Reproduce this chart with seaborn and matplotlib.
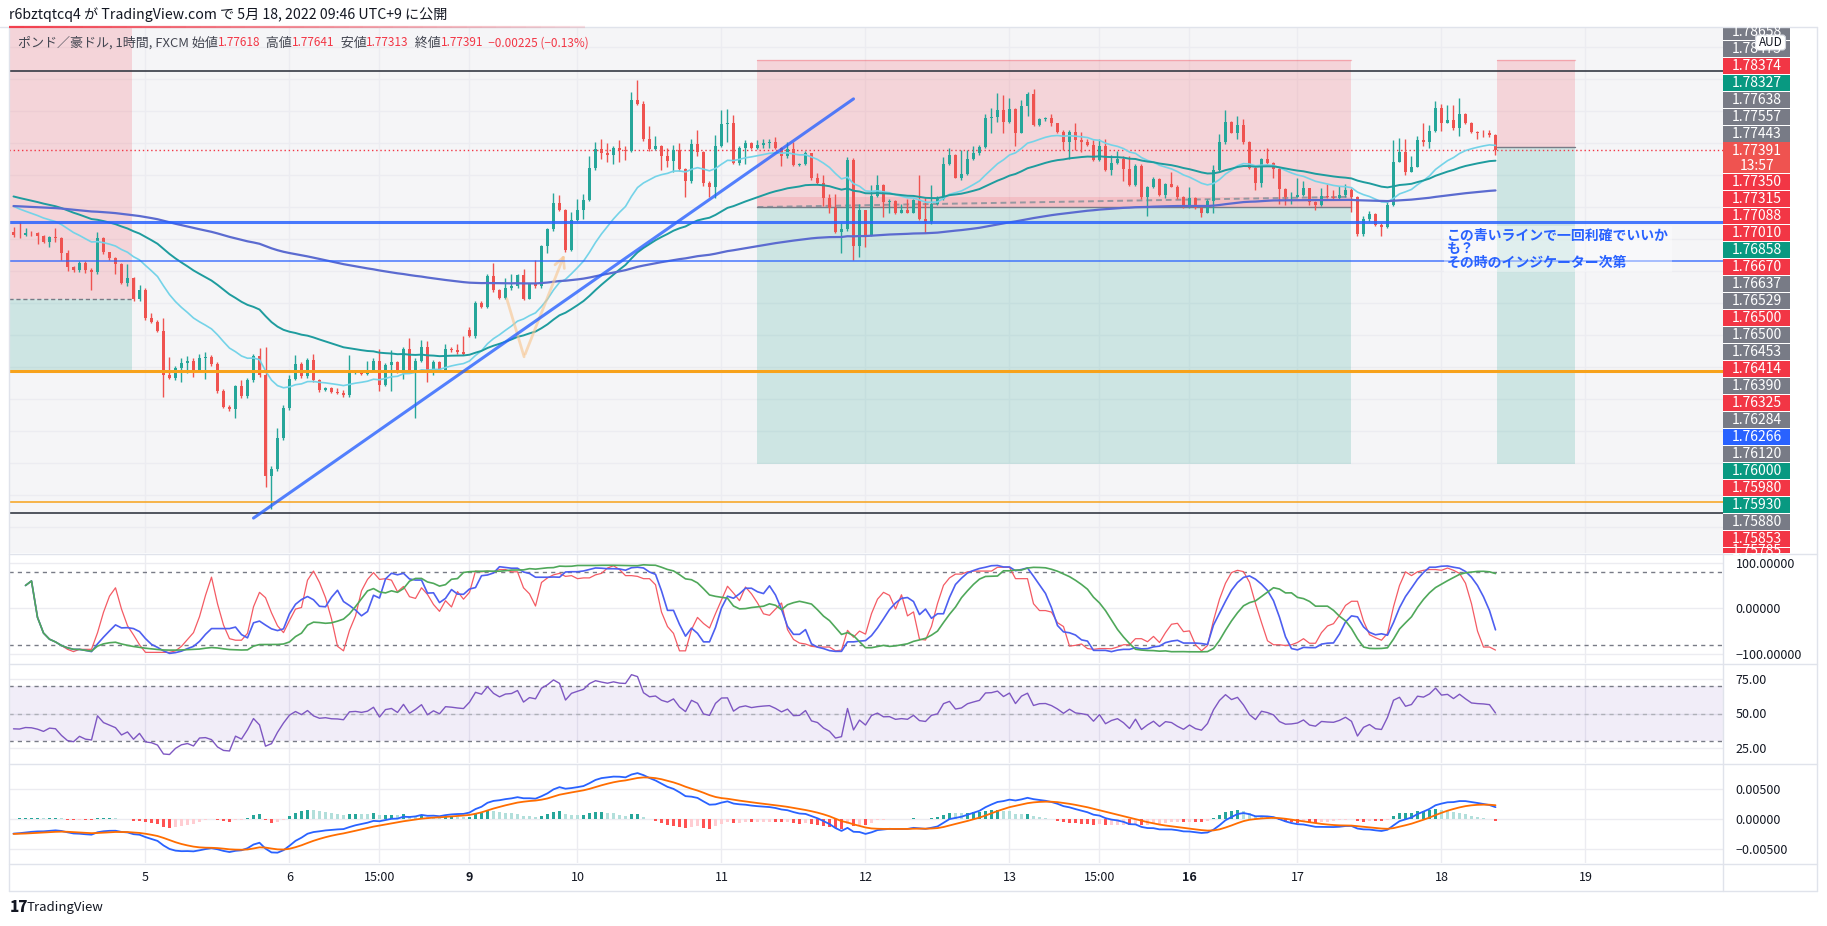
import numpy as np
import pandas as pd
import matplotlib
matplotlib.use("Agg")
import matplotlib.pyplot as plt
import matplotlib.transforms as mtrans
from matplotlib.patches import Rectangle, FancyBboxPatch
import seaborn as sns

# GBP/AUD 1h (FXCM), bars from 2022-05-04 02:00 to 05-18 09:00 JST
opens = [
    1.7611, 1.7607, 1.7606, 1.7610, 1.7609, 1.7604, 1.7596, 1.7603, 1.7601, 1.7578,
    1.7557, 1.7552, 1.7562, 1.7551, 1.7548, 1.7601, 1.7579, 1.7570, 1.7561, 1.7532,
    1.7539, 1.7506, 1.7520, 1.7476, 1.7471, 1.7457, 1.7388, 1.7383, 1.7398, 1.7407,
    1.7410, 1.7395, 1.7414, 1.7415, 1.7405, 1.7363, 1.7338, 1.7334, 1.7370, 1.7354,
    1.7380, 1.7417, 1.7388, 1.7230, 1.7240, 1.7289, 1.7336, 1.7382, 1.7405, 1.7386,
    1.7411, 1.7379, 1.7364, 1.7367, 1.7361, 1.7360, 1.7356, 1.7391, 1.7393, 1.7389,
    1.7394, 1.7410, 1.7372, 1.7403, 1.7408, 1.7393, 1.7428, 1.7393, 1.7410, 1.7432,
    1.7390, 1.7408, 1.7395, 1.7428, 1.7426, 1.7423, 1.7458, 1.7448, 1.7500, 1.7494,
    1.7542, 1.7520, 1.7508, 1.7524, 1.7527, 1.7544, 1.7507, 1.7530, 1.7526, 1.7589,
    1.7615, 1.7656, 1.7645, 1.7583, 1.7630, 1.7646, 1.7661, 1.7711, 1.7740, 1.7735,
    1.7731, 1.7743, 1.7739, 1.7738, 1.7817, 1.7811, 1.7756, 1.7740, 1.7745, 1.7729,
    1.7722, 1.7739, 1.7709, 1.7690, 1.7748, 1.7736, 1.7688, 1.7681, 1.7745, 1.7780,
    1.7781, 1.7719, 1.7743, 1.7750, 1.7742, 1.7747, 1.7750, 1.7752, 1.7742, 1.7729,
    1.7740, 1.7716, 1.7717, 1.7734, 1.7695, 1.7688, 1.7664, 1.7648, 1.7611, 1.7615,
    1.7723, 1.7589, 1.7645, 1.7606, 1.7667, 1.7684, 1.7658, 1.7659, 1.7641, 1.7645,
    1.7641, 1.7661, 1.7631, 1.7626, 1.7655, 1.7662, 1.7717, 1.7731, 1.7696, 1.7702,
    1.7725, 1.7735, 1.7744, 1.7789, 1.7791, 1.7801, 1.7783, 1.7803, 1.7766, 1.7808,
    1.7827, 1.7778, 1.7788, 1.7789, 1.7781, 1.7768, 1.7751, 1.7768, 1.7754, 1.7751,
    1.7747, 1.7723, 1.7745, 1.7708, 1.7719, 1.7725, 1.7709, 1.7684, 1.7714, 1.7665,
    1.7681, 1.7694, 1.7669, 1.7686, 1.7682, 1.7665, 1.7651, 1.7664, 1.7648, 1.7641,
    1.7660, 1.7708, 1.7751, 1.7783, 1.7766, 1.7778, 1.7751, 1.7711, 1.7688, 1.7725,
    1.7719, 1.7709, 1.7678, 1.7665, 1.7666, 1.7669, 1.7679, 1.7658, 1.7653, 1.7667,
    1.7665, 1.7664, 1.7669, 1.7677, 1.7665, 1.7608, 1.7631, 1.7639, 1.7622, 1.7619,
    1.7653, 1.7721, 1.7736, 1.7705, 1.7713, 1.7755, 1.7752, 1.7769, 1.7804, 1.7782,
    1.7786, 1.7773, 1.7795, 1.7781, 1.7768, 1.7766, 1.7765, 1.77618]
highs = [
    1.7619, 1.7626, 1.7618, 1.7613, 1.7611, 1.7606, 1.7605, 1.7618, 1.7603, 1.7583,
    1.7558, 1.7566, 1.7566, 1.7555, 1.7611, 1.7603, 1.7580, 1.7572, 1.7563, 1.7561,
    1.7541, 1.7528, 1.7524, 1.7484, 1.7473, 1.7476, 1.7416, 1.7402, 1.7414, 1.7417,
    1.7414, 1.7421, 1.7424, 1.7419, 1.7408, 1.7366, 1.7341, 1.7372, 1.7380, 1.7383,
    1.7420, 1.7429, 1.7432, 1.7245, 1.7305, 1.7341, 1.7388, 1.7419, 1.7408, 1.7414,
    1.7421, 1.7381, 1.7369, 1.7369, 1.7367, 1.7364, 1.7419, 1.7395, 1.7394, 1.7410,
    1.7414, 1.7428, 1.7406, 1.7427, 1.7409, 1.7431, 1.7445, 1.7414, 1.7442, 1.7440,
    1.7411, 1.7409, 1.7436, 1.7431, 1.7436, 1.7448, 1.7463, 1.7503, 1.7503, 1.7546,
    1.7562, 1.7522, 1.7539, 1.7546, 1.7545, 1.7553, 1.7531, 1.7568, 1.7591, 1.7617,
    1.7672, 1.7669, 1.7647, 1.7643, 1.7662, 1.7671, 1.7729, 1.7752, 1.7756, 1.7750,
    1.7745, 1.7755, 1.7745, 1.7829, 1.7848, 1.7815, 1.7776, 1.7761, 1.7747, 1.7743,
    1.7747, 1.7750, 1.7711, 1.7756, 1.7771, 1.7738, 1.7691, 1.7763, 1.7801, 1.7803,
    1.7794, 1.7745, 1.7755, 1.7752, 1.7754, 1.7756, 1.7756, 1.7759, 1.7744, 1.7751,
    1.7752, 1.7719, 1.7738, 1.7735, 1.7703, 1.7700, 1.7671, 1.7671, 1.7625, 1.7728,
    1.7726, 1.7655, 1.7646, 1.7684, 1.7700, 1.7686, 1.7662, 1.7661, 1.7655, 1.7662,
    1.7663, 1.7700, 1.7666, 1.7684, 1.7667, 1.7728, 1.7742, 1.7733, 1.7739, 1.7739,
    1.7745, 1.7747, 1.7796, 1.7804, 1.7828, 1.7825, 1.7820, 1.7805, 1.7818, 1.7829,
    1.7834, 1.7789, 1.7791, 1.7795, 1.7782, 1.7770, 1.7770, 1.7782, 1.7768, 1.7756,
    1.7755, 1.7757, 1.7757, 1.7731, 1.7738, 1.7729, 1.7729, 1.7717, 1.7717, 1.7683,
    1.7697, 1.7696, 1.7688, 1.7705, 1.7684, 1.7667, 1.7681, 1.7666, 1.7650, 1.7662,
    1.7716, 1.7764, 1.7801, 1.7785, 1.7792, 1.7787, 1.7753, 1.7713, 1.7727, 1.7743,
    1.7720, 1.7712, 1.7679, 1.7674, 1.7696, 1.7690, 1.7680, 1.7660, 1.7679, 1.7686,
    1.7677, 1.7683, 1.7686, 1.7679, 1.7667, 1.7636, 1.7644, 1.7640, 1.7625, 1.7659,
    1.7755, 1.7758, 1.7757, 1.7730, 1.7761, 1.7781, 1.7778, 1.7815, 1.7811, 1.7809,
    1.7809, 1.7821, 1.7797, 1.7783, 1.7769, 1.7771, 1.7770, 1.77641]
lows = [
    1.7603, 1.7602, 1.7605, 1.7605, 1.7593, 1.7594, 1.7588, 1.7596, 1.7567, 1.7550,
    1.7548, 1.7548, 1.7547, 1.7521, 1.7545, 1.7577, 1.7567, 1.7546, 1.7530, 1.7526,
    1.7503, 1.7503, 1.7473, 1.7469, 1.7455, 1.7353, 1.7381, 1.7380, 1.7377, 1.7390,
    1.7385, 1.7392, 1.7382, 1.7402, 1.7359, 1.7336, 1.7331, 1.7320, 1.7352, 1.7352,
    1.7377, 1.7384, 1.7212, 1.7178, 1.7238, 1.7286, 1.7333, 1.7380, 1.7383, 1.7383,
    1.7377, 1.7361, 1.7363, 1.7359, 1.7358, 1.7353, 1.7353, 1.7389, 1.7388, 1.7388,
    1.7392, 1.7363, 1.7370, 1.7363, 1.7391, 1.7382, 1.7391, 1.7321, 1.7408, 1.7377,
    1.7388, 1.7392, 1.7394, 1.7423, 1.7420, 1.7419, 1.7447, 1.7445, 1.7492, 1.7492,
    1.7517, 1.7506, 1.7506, 1.7520, 1.7524, 1.7505, 1.7506, 1.7524, 1.7524, 1.7578,
    1.7613, 1.7644, 1.7580, 1.7581, 1.7628, 1.7632, 1.7659, 1.7708, 1.7725, 1.7721,
    1.7718, 1.7721, 1.7724, 1.7736, 1.7809, 1.7753, 1.7738, 1.7739, 1.7708, 1.7713,
    1.7705, 1.7707, 1.7666, 1.7688, 1.7729, 1.7683, 1.7665, 1.7664, 1.7744, 1.7752,
    1.7717, 1.7716, 1.7718, 1.7740, 1.7740, 1.7742, 1.7743, 1.7741, 1.7714, 1.7727,
    1.7714, 1.7714, 1.7715, 1.7693, 1.7686, 1.7651, 1.7640, 1.7609, 1.7578, 1.7613,
    1.7567, 1.7572, 1.7588, 1.7605, 1.7666, 1.7634, 1.7640, 1.7639, 1.7640, 1.7640,
    1.7640, 1.7630, 1.7610, 1.7623, 1.7653, 1.7661, 1.7716, 1.7695, 1.7693, 1.7700,
    1.7723, 1.7731, 1.7742, 1.7765, 1.7783, 1.7765, 1.7782, 1.7745, 1.7765, 1.7792,
    1.7777, 1.7777, 1.7784, 1.7776, 1.7766, 1.7739, 1.7725, 1.7739, 1.7736, 1.7745,
    1.7722, 1.7722, 1.7706, 1.7700, 1.7717, 1.7690, 1.7683, 1.7683, 1.7663, 1.7636,
    1.7680, 1.7667, 1.7664, 1.7681, 1.7663, 1.7649, 1.7649, 1.7647, 1.7635, 1.7640,
    1.7640, 1.7706, 1.7749, 1.7765, 1.7757, 1.7749, 1.7709, 1.7676, 1.7682, 1.7718,
    1.7695, 1.7655, 1.7653, 1.7655, 1.7665, 1.7667, 1.7653, 1.7646, 1.7652, 1.7664,
    1.7663, 1.7663, 1.7666, 1.7643, 1.7605, 1.7604, 1.7628, 1.7620, 1.7604, 1.7617,
    1.7652, 1.7720, 1.7700, 1.7704, 1.7712, 1.7745, 1.7742, 1.7768, 1.7769, 1.7781,
    1.7771, 1.7761, 1.7779, 1.7766, 1.7757, 1.7759, 1.7759, 1.77313]
closes = [
    1.7607, 1.7606, 1.7610, 1.7609, 1.7604, 1.7596, 1.7603, 1.7601, 1.7578, 1.7557,
    1.7552, 1.7562, 1.7551, 1.7548, 1.7601, 1.7579, 1.7570, 1.7561, 1.7532, 1.7539,
    1.7506, 1.7520, 1.7476, 1.7471, 1.7457, 1.7388, 1.7383, 1.7398, 1.7407, 1.7410,
    1.7395, 1.7414, 1.7415, 1.7405, 1.7363, 1.7338, 1.7334, 1.7370, 1.7354, 1.7380,
    1.7417, 1.7388, 1.7230, 1.7240, 1.7289, 1.7336, 1.7382, 1.7405, 1.7386, 1.7411,
    1.7379, 1.7364, 1.7367, 1.7361, 1.7360, 1.7356, 1.7391, 1.7393, 1.7389, 1.7394,
    1.7410, 1.7372, 1.7403, 1.7408, 1.7393, 1.7428, 1.7393, 1.7410, 1.7432, 1.7390,
    1.7408, 1.7395, 1.7428, 1.7426, 1.7423, 1.7421, 1.7448, 1.7500, 1.7494, 1.7542,
    1.7520, 1.7508, 1.7524, 1.7527, 1.7544, 1.7507, 1.7530, 1.7526, 1.7589, 1.7615,
    1.7656, 1.7645, 1.7583, 1.7630, 1.7646, 1.7661, 1.7711, 1.7740, 1.7735, 1.7731,
    1.7743, 1.7739, 1.7738, 1.7817, 1.7811, 1.7756, 1.7740, 1.7745, 1.7729, 1.7722,
    1.7739, 1.7709, 1.7690, 1.7748, 1.7736, 1.7688, 1.7681, 1.7745, 1.7780, 1.7781,
    1.7719, 1.7743, 1.7750, 1.7742, 1.7747, 1.7750, 1.7752, 1.7742, 1.7729, 1.7740,
    1.7716, 1.7717, 1.7734, 1.7695, 1.7688, 1.7664, 1.7648, 1.7611, 1.7615, 1.7723,
    1.7589, 1.7645, 1.7606, 1.7667, 1.7684, 1.7658, 1.7659, 1.7641, 1.7645, 1.7641,
    1.7661, 1.7631, 1.7626, 1.7655, 1.7662, 1.7717, 1.7731, 1.7696, 1.7702, 1.7725,
    1.7735, 1.7744, 1.7789, 1.7791, 1.7801, 1.7783, 1.7803, 1.7766, 1.7808, 1.7827,
    1.7778, 1.7788, 1.7789, 1.7781, 1.7768, 1.7751, 1.7768, 1.7754, 1.7751, 1.7747,
    1.7723, 1.7745, 1.7708, 1.7719, 1.7725, 1.7709, 1.7684, 1.7714, 1.7665, 1.7681,
    1.7694, 1.7669, 1.7686, 1.7682, 1.7665, 1.7651, 1.7664, 1.7648, 1.7641, 1.7660,
    1.7708, 1.7751, 1.7783, 1.7766, 1.7778, 1.7751, 1.7711, 1.7688, 1.7725, 1.7719,
    1.7709, 1.7678, 1.7665, 1.7666, 1.7669, 1.7679, 1.7658, 1.7653, 1.7667, 1.7665,
    1.7664, 1.7669, 1.7677, 1.7665, 1.7608, 1.7631, 1.7639, 1.7622, 1.7619, 1.7653,
    1.7721, 1.7736, 1.7705, 1.7713, 1.7755, 1.7752, 1.7769, 1.7804, 1.7782, 1.7786,
    1.7773, 1.7795, 1.7781, 1.7768, 1.7766, 1.7765, 1.7763, 1.77391]

# time axis (bar numbers of the day / time labels)
tick_bars = [22, 46, 61, 76, 94, 118, 142, 166, 181, 196, 214, 238, 262]
tick_labels = ['5', '6', '15:00', '9', '10', '11', '12', '13', '15:00', '16', '17', '18', '19']
bold_labels = ['9', '16']

# drawings on the price pane
black_lines = [1.78626, 1.71719]
blue_lines = [1.76266, 1.75657]
orange_lines = [1.73938, 1.71891]
trend_x = [40.0, 140.0]
trend_y = [1.7164, 1.7819]
zigzag_x = [82.2, 85.1, 92.0]
zigzag_y = [1.7507, 1.7416, 1.7580]
pos_start = [-2.0, 124.0, 247.25]
pos_end = [19.7, 222.9, 260.25]
pos_stop = [1.7960, 1.7880, 1.7880]
pos_entry = [1.7506, 1.7650, 1.7744]
pos_target = [1.7392, 1.7248, 1.7248]
pos_close = [1.7506, 1.7666, 1.7744]
note_x, note_y = 238.9, 1.7616
note_text = "この青いラインで一回利確でいいか\nも？\nその時のインジケーター次第"

# labels stacked on the price scale
scale_vals = ['1.78658', '1.78475', '1.78374', '1.78327', '1.77638', '1.77557', '1.77443',
              '1.77391', '1.77350', '1.77315', '1.77088', '1.77010', '1.76858', '1.76670',
              '1.76637', '1.76529', '1.76500', '1.76500', '1.76453', '1.76414', '1.76390',
              '1.76325', '1.76284', '1.76266', '1.76120', '1.76000', '1.75980', '1.75930',
              '1.75880', '1.75853', '1.75785']
scale_kind = ['g', 'g', 'r', 't', 'g', 'g', 'g', 'c', 'r', 'r', 'r', 'r', 't', 'r', 'g', 'g',
              'r', 'g', 'g', 'r', 'g', 'r', 'g', 'b', 'g', 't', 'r', 't', 'g', 'r', 'r']
countdown = '13:57'

header1 = "r6bztqtcq4 が TradingView.com で 5月 18, 2022 09:46 UTC+9 に公開"
symbol = "ポンド／豪ドル, 1時間, FXCM"
change_txt = "−0.00225 (−0.13%)"

# indicator settings
ma_spans = [20, 50, 200]
ma_seed = [1.7656, 1.7669, 1.7652]
rci_periods = [9, 13, 26]
rsi_period, rsi_seed_gain, rsi_seed_loss = 14, 0.0007, 0.0011
macd_fast_seed, macd_slow_seed, macd_sig_seed = 0.0015, 0.0040, -0.0025

UP, DOWN = '#26a69a', '#ef5350'
RED, GREEN, BLUE, GRAY = '#f23645', '#089981', '#2962ff', '#787b86'
TXT, GRID, SEP = '#131722', '#ececf1', '#e0e3eb'

o = np.array(opens); h = np.array(highs); l = np.array(lows); c = np.array(closes)
bars = np.arange(len(c))


def ema(vals, span, seed):
    a = 2.0 / (span + 1)
    out = np.empty(len(vals))
    prev = seed
    for i, v in enumerate(vals):
        prev = prev + a * (v - prev)
        out[i] = prev
    return out


def rci(vals, n):
    out = np.full(len(vals), np.nan)
    for t in range(len(vals)):
        m = min(n, t + 1)
        if m < 3:
            continue
        w = pd.Series(vals[t - m + 1:t + 1])
        d = np.arange(m, 0, -1) - w.rank(ascending=False).values
        out[t] = (1 - 6 * np.sum(d ** 2) / (m * (m * m - 1))) * 100
    return out


def rsi(vals, n, g, lo):
    out = np.empty(len(vals))
    out[0] = 100 - 100 / (1 + g / lo)
    for i in range(1, len(vals)):
        ch = vals[i] - vals[i - 1]
        g = (g * (n - 1) + max(ch, 0)) / n
        lo = (lo * (n - 1) + max(-ch, 0)) / n
        out[i] = 100 - 100 / (1 + g / lo)
    return out


mas = [ema(c, s, seed) for s, seed in zip(ma_spans, ma_seed)]
rcis = [rci(c, n) for n in rci_periods]
rsi_v = rsi(c, rsi_period, rsi_seed_gain, rsi_seed_loss)
macd = ema(c, 12, c[0] + macd_fast_seed) - ema(c, 26, c[0] + macd_slow_seed)
signal = ema(macd, 9, macd_sig_seed)
hist = macd - signal

sns.set_theme(style="white")
plt.rcParams['font.family'] = ['Noto Sans CJK JP', 'DejaVu Sans']

W, H = 1827, 926
fig = plt.figure(figsize=(W / 100, H / 100), dpi=100, facecolor='white')


def px_axes(x0, y0, x1, y1):
    return fig.add_axes([x0 / W, 1 - y1 / H, (x1 - x0) / W, (y1 - y0) / H])


XL = ((9 - 13.5) / 6, (1723 - 13.5) / 6)
ax = px_axes(9, 27, 1723, 553)
ax_rci = px_axes(9, 554, 1723, 663)
ax_rsi = px_axes(9, 664, 1723, 763)
ax_macd = px_axes(9, 764, 1723, 863)
ax_t = px_axes(9, 864, 1723, 891)

for a in [ax, ax_rci, ax_rsi, ax_macd, ax_t]:
    a.set_xlim(*XL)
    for s in a.spines.values():
        s.set_visible(False)
    a.set_xticks(tick_bars)
    a.tick_params(axis='x', labelbottom=False, length=0)
    a.set_axisbelow(True)
    a.grid(True, color=GRID, linewidth=1)
    a.set_facecolor('white')

# ---- price pane ----
ax.set_facecolor('#f5f5f7')
ax.set_ylim(1.79735 - 553 / 6400, 1.79735 - 27 / 6400)
ax.set_yticks(np.arange(1.715, 1.7901, 0.005))
ax.tick_params(axis='y', labelleft=False, length=0)

for x0, x1, st, en, tg, cl in zip(pos_start, pos_end, pos_stop, pos_entry, pos_target, pos_close):
    ax.add_patch(Rectangle((x0, en), x1 - x0, st - en, facecolor=RED, alpha=0.17, lw=0, zorder=1))
    ax.add_patch(Rectangle((x0, tg), x1 - x0, en - tg, facecolor=GREEN, alpha=0.17, lw=0, zorder=1))
    ax.plot([x0, x1], [st, st], color=RED, alpha=0.3, lw=1, zorder=1)
    if cl > en:
        ax.add_patch(Rectangle((x0, en), x1 - x0, cl - en, facecolor=RED, alpha=0.13, lw=0, zorder=1))
        ax.plot([x0, x1], [en, cl], color='#9598a1', lw=1.4, ls=(0, (3, 2)), zorder=1.5)
    ax.plot([x0, x1], [en, en], color=GRAY, lw=1, zorder=1.5,
            ls=(0, (3, 2)) if x0 < 0 else '-')

for yv in black_lines:
    ax.axhline(yv, color='#363a45', lw=1.2, zorder=2)
for yv, lw in zip(blue_lines, [2.2, 1.1]):
    ax.axhline(yv, color=BLUE, lw=lw, alpha=0.85, zorder=6)
for yv, lw in zip(orange_lines, [2.2, 1.1]):
    ax.axhline(yv, color='#f7a21b', lw=lw, zorder=6)
ax.axhline(c[-1], color=RED, lw=1, ls=(0, (1, 2)), zorder=2)

cols = np.where(c >= o, UP, DOWN)
ax.vlines(bars, l, h, colors=cols, linewidth=1.0, zorder=3)
ax.bar(bars, np.maximum(np.abs(c - o), 0.00004), bottom=np.minimum(o, c), width=0.66,
       color=cols, linewidth=0, zorder=3)

for vals, col, lw in zip(mas, ['#74d3e8', '#1e9c9e', '#5b6bd0'], [1.2, 1.4, 1.6]):
    sns.lineplot(x=bars, y=vals, ax=ax, color=col, linewidth=lw, zorder=4)

sns.lineplot(x=trend_x, y=trend_y, ax=ax, color=BLUE, linewidth=2.2, alpha=0.8, zorder=6)
sns.lineplot(x=zigzag_x[:2], y=zigzag_y[:2], ax=ax, color='#f8c48c', linewidth=2, alpha=0.6, zorder=5)
ax.annotate('', xy=(zigzag_x[2], zigzag_y[2]), xytext=(zigzag_x[1], zigzag_y[1]),
            arrowprops=dict(arrowstyle='->', color='#f8c48c', lw=2, alpha=0.6,
                            mutation_scale=18), zorder=5)
ax.text(note_x, note_y, note_text, color=BLUE, fontsize=10, fontweight='bold', va='top',
        ha='left', linespacing=0.95, zorder=7,
        bbox=dict(facecolor='white', alpha=0.4, edgecolor='none', pad=2))
ax.set_xlabel(''); ax.set_ylabel('')

# ---- RCI pane ----
ax_rci.set_ylim(-120, 119.1)
ax_rci.set_yticks([100, 0, -100])
ax_rci.set_yticklabels(['100.00000', '0.00000', '−100.00000'])
for lv in [80, -80]:
    ax_rci.axhline(lv, color=GRAY, lw=1, ls=(0, (3, 3)))
for vals, col, lw in zip(rcis, ['#f45b64', '#4d5ff0', '#4fa85a'], [0.9, 1.2, 1.2]):
    m = np.isfinite(vals)
    sns.lineplot(x=bars[m], y=vals[m], ax=ax_rci, color=col, linewidth=lw)

# ---- RSI pane ----
ax_rsi.set_ylim(14.1, 85.9)
ax_rsi.set_yticks([75, 50, 25])
ax_rsi.set_yticklabels(['75.00', '50.00', '25.00'])
ax_rsi.axhspan(30, 70, color='#7e57c2', alpha=0.1, lw=0)
for lv, col in [(70, GRAY), (50, '#aeb0b8'), (30, GRAY)]:
    ax_rsi.axhline(lv, color=col, lw=1, ls=(0, (3, 3)))
sns.lineplot(x=bars, y=rsi_v, ax=ax_rsi, color='#7e57c2', linewidth=1)

# ---- MACD pane ----
ax_macd.set_ylim(-0.007333, 0.009167)
ax_macd.set_yticks([0.005, 0, -0.005])
ax_macd.set_yticklabels(['0.00500', '0.00000', '−0.00500'])
prev = np.r_[hist[0], hist[:-1]]
hcol = np.where(hist >= 0, np.where(hist >= prev, '#26a69a', '#b2dfdb'),
                np.where(hist < prev, '#ff5252', '#ffcdd2'))
ax_macd.bar(bars, hist, width=0.65, color=hcol, linewidth=0)
sns.lineplot(x=bars, y=macd, ax=ax_macd, color=BLUE, linewidth=1.3)
sns.lineplot(x=bars, y=signal, ax=ax_macd, color='#ff6d00', linewidth=1.3)

for a in [ax_rci, ax_rsi, ax_macd]:
    a.yaxis.set_ticks_position('right')
    a.tick_params(axis='y', right=False, left=False, labelright=True, labelleft=False,
                  length=0, pad=9, labelsize=9, labelcolor=TXT)
    a.set_xlabel(''); a.set_ylabel('')

# ---- time axis ----
ax_t.set_ylim(0, 1)
ax_t.grid(False)
ax_t.set_yticks([])
tr = mtrans.blended_transform_factory(ax_t.transData, ax_t.transAxes)
for b, lab in zip(tick_bars, tick_labels):
    ax_t.text(b, 0.5, lab, transform=tr, ha='center', va='center', fontsize=9, color=TXT,
              fontweight='bold' if lab in bold_labels else 'normal')

# ---- chrome: separators, price-scale labels, header ----
ov = fig.add_axes([0, 0, 1, 1], zorder=10)
ov.set_xlim(0, W); ov.set_ylim(H, 0); ov.axis('off'); ov.patch.set_alpha(0)
for yy in [27, 553.5, 663.5, 763.5, 863.5, 891]:
    ov.plot([0 if yy == 27 else 9, 1817], [yy, yy], color=SEP, lw=1)
ov.plot([1723, 1723], [553, 891], color=SEP, lw=1)
ov.plot([1817, 1817], [27, 891], color=SEP, lw=1)
ov.plot([8.5, 8.5], [27, 891], color=SEP, lw=1)
xs = np.linspace(9, 585, 40)
for i in range(len(xs) - 1):
    ov.plot(xs[i:i + 2], [27, 27], color=RED, lw=1.6, alpha=0.85 * (1 - i / 40) + 0.1,
            solid_capstyle='butt')

clip = Rectangle((1723, 27), 67, 526, transform=ov.transData)
kind_col = {'g': GRAY, 'r': RED, 't': GREEN, 'b': BLUE, 'c': '#ef5350'}
for i, (val, kd) in enumerate(zip(scale_vals, scale_kind)):
    yc = 31.8 + 17 * i if i <= 7 else 181.7 + 17 * (i - 8)
    if kd == 'c':
        r = Rectangle((1723, 142.3), 67, 31, color=kind_col[kd], lw=0)
        ov.add_patch(r)
        ov.text(1757, 165.5, countdown, color='white', fontsize=10, ha='center', va='center')
    else:
        r = Rectangle((1723, yc - 8), 67, 16, color=kind_col[kd], lw=0)
        ov.add_patch(r)
    r.set_clip_path(clip)
    t = ov.text(1757, min(yc, 551.0), val, color='white', fontsize=10, ha='center', va='center')
    t.set_clip_path(clip)

ov.add_patch(FancyBboxPatch((1757, 36.5), 27, 12, boxstyle='round,pad=1.5,rounding_size=3',
                            facecolor='white', edgecolor='#d1d4dc', lw=0.8))
ov.text(1770.5, 42.5, 'AUD', fontsize=8.5, color=TXT, ha='center', va='center')

fig.text(9 / W, 1 - 15 / H, header1, fontsize=10.2, color=TXT, va='center')
renderer = fig.canvas.get_renderer()
pieces = [(symbol + ' 始値', '#434651', 9.4), (f"{opens[-1]:.5f}", RED, 8.5),
          ('  高値', '#434651', 9.4), (f"{highs[-1]:.5f}", RED, 8.5),
          ('  安値', '#434651', 9.4), (f"{lows[-1]:.5f}", RED, 8.5),
          ('  終値', '#434651', 9.4), (f"{closes[-1]:.5f}", RED, 8.5),
          ('  ' + change_txt, RED, 8.5)]
xp = 18
for s, col, fs in pieces:
    tt = fig.text(xp / W, 1 - 43 / H, s, fontsize=fs, color=col, va='center', zorder=12)
    xp = tt.get_window_extent(renderer).x1
fig.text(10 / W, 1 - 908 / H, '17', fontsize=11, fontweight='heavy', color=TXT, va='center')
fig.text(27 / W, 1 - 908 / H, 'TradingView', fontsize=9.5, color=TXT, va='center')

fig.savefig('out.png', dpi=100, facecolor='white')
